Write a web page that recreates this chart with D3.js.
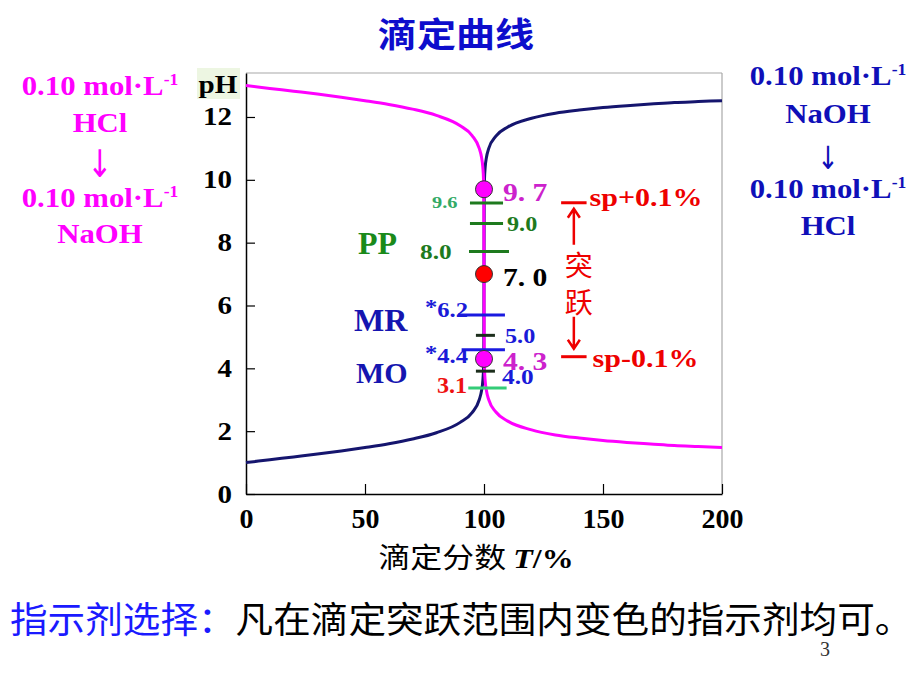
<!DOCTYPE html>
<html><head><meta charset="utf-8">
<script src="https://cdn.jsdelivr.net/npm/d3@7"></script>
<style>body{margin:0;background:#fff} svg{display:block}</style>
</head><body><div id="chart"></div>
<script>
// ---------- data ----------
const titrT = [0,10,20,30,40,50,60,70,80,90,95,98,99,99.5,99.8,99.9,100,100.1,100.2,100.5,101,102,105,110,120,130,140,150,160,170,180,190,200];
// HCl titrated with NaOH (navy, rising)
const acidCurvePH = [1.00,1.09,1.18,1.27,1.37,1.48,1.60,1.75,1.95,2.28,2.59,3.00,3.30,3.60,4.00,4.30,7.00,9.70,10.00,10.40,10.70,11.00,11.39,11.68,11.96,12.12,12.22,12.30,12.36,12.41,12.46,12.49,12.52];
// NaOH titrated with HCl (magenta, falling)
const baseCurvePH = [13.00,12.91,12.82,12.73,12.63,12.52,12.40,12.25,12.05,11.72,11.41,11.00,10.70,10.40,10.00,9.70,7.00,4.30,4.00,3.60,3.30,3.00,2.61,2.32,2.04,1.88,1.78,1.70,1.64,1.59,1.54,1.51,1.48];
const xTicks = [0,50,100,150,200];
const yTicks = [0,2,4,6,8,10,12];
const keyT = [100,100,100];
const keyPH = [9.7,7.0,4.3];
const keyLabels = ["9. 7","7. 0","4. 3"];
const rangePH = [9.26,8.61,7.72,5.70,5.05,4.59,3.91,3.37];
const rangeT0 = [94.1,94.1,93.7,89.1,96.6,90.6,96.6,93.4];
const rangeT1 = [108.0,108.0,110.5,108.8,104.6,108.8,104.6,109.5];
const rangeLabels = ["9.6","9.0","8.0","*6.2","5.0","*4.4","4.0","3.1"];
const indicatorNames = ["PP","MR","MO"];
const jumpPH = [9.27,4.37];
const jumpLabels = ["sp+0.1%","sp-0.1%"];
const jumpT0 = 132.4, jumpT1 = 143.1;

// ---------- setup ----------
const W = 920, H = 690;
const SERIF = "'Liberation Serif','Times New Roman',serif";
const CJK = "'Noto Sans CJK SC','Noto Sans',sans-serif";
const svg = d3.select("#chart").append("svg").attr("width", W).attr("height", H);
svg.append("rect").attr("width", W).attr("height", H).attr("fill", "#fff");

const x = d3.scaleLinear().domain([0,200]).range([246,722]);
const y = d3.scaleLinear().domain([0,13.4]).range([494,73]);

function label(g, px, py, str, o) {
  const t = g.append("text")
    .attr("transform", `translate(${px},${py}) scale(${o.sx||1},1)`)
    .attr("text-anchor", o.anchor || "start")
    .style("font-family", o.family || SERIF)
    .style("font-size", o.size + "px")
    .style("font-weight", o.weight || "bold")
    .style("font-style", o.style || "normal")
    .attr("fill", o.color || "#000");
  if (str !== null) t.text(str);
  return t;
}

// title
label(svg, 456, 47, "滴定曲线", {size:34, family:CJK, color:"#0d0dcc", anchor:"middle", sx:1.15});

// side notes
function sideNote(cx, lines, color) {
  lines.forEach(l => {
    if (l.arrow) {
      label(svg, cx, l.y, "↓", {size:l.size, weight:"normal", color, anchor:"middle", family:"'DejaVu Sans',sans-serif", sx:0.8});
    } else if (l.sup) {
      const t = label(svg, cx, l.y, null, {size:28, color, anchor:"middle", sx:1.1});
      t.append("tspan").text(l.text);
      t.append("tspan").text("-1").attr("dy", -10).style("font-size", "16px");
    } else {
      label(svg, cx, l.y, l.text, {size:28, color, anchor:"middle", sx:1.1});
    }
  });
}
sideNote(100, [{text:"0.10 mol·L", sup:true, y:95},{text:"HCl", y:132},{arrow:true, y:177, size:38},{text:"0.10 mol·L", sup:true, y:207},{text:"NaOH", y:243}], "#ff00ff");
sideNote(828, [{text:"0.10 mol·L", sup:true, y:85},{text:"NaOH", y:123},{arrow:true, y:169, size:32},{text:"0.10 mol·L", sup:true, y:198},{text:"HCl", y:235}], "#0f0fb8");

// frame
const plot = svg.append("g");
plot.append("line").attr("x1", x(0)).attr("x2", x(200)).attr("y1", y(13.4)).attr("y2", y(13.4)).attr("stroke", "#a8a8a8").attr("stroke-width", 1.2);
plot.append("line").attr("x1", x(200)).attr("x2", x(200)).attr("y1", y(13.4)).attr("y2", y(0)).attr("stroke", "#a8a8a8").attr("stroke-width", 1.2);

// axes
const sxY = 1.16;
const yAxis = svg.append("g").attr("transform", `translate(${x(0)},0)`)
  .call(d3.axisLeft(y).tickValues(yTicks).tickSize(-9).tickSizeOuter(0).tickPadding(14).tickFormat(d3.format("d")));
yAxis.select(".domain").attr("stroke", "#000").attr("stroke-width", 1.5);
yAxis.selectAll(".tick line").attr("stroke", "#000").attr("stroke-width", 1.2);
yAxis.selectAll(".tick text")
  .attr("x", -14 / sxY).attr("transform", `scale(${sxY},1)`)
  .style("font-family", SERIF).style("font-size", "25px").style("font-weight", "bold").attr("fill", "#000");

const xAxis = svg.append("g").attr("transform", `translate(0,${y(0)})`)
  .call(d3.axisBottom(x).tickValues(xTicks).tickSize(-10).tickSizeOuter(0).tickPadding(14).tickFormat(d3.format("d")));
xAxis.select(".domain").attr("stroke", "#000").attr("stroke-width", 1.5);
xAxis.selectAll(".tick line").attr("stroke", "#000").attr("stroke-width", 1.2);
xAxis.selectAll(".tick text")
  .style("font-family", SERIF).style("font-size", "28px").style("font-weight", "bold").attr("fill", "#000");

// pH label
svg.append("rect").attr("x", 197).attr("y", 68).attr("width", 43).attr("height", 31).attr("fill", "#edf6e2");
label(svg, 218, 93, "pH", {size:26, anchor:"middle", sx:1.12});

// x axis title
const xt = label(svg, 476, 568, null, {size:28, anchor:"middle", sx:1.14, weight:"normal"});
xt.append("tspan").text("滴定分数 ").style("font-family", CJK);
xt.append("tspan").text("T").style("font-style", "italic").style("font-weight", "bold");
xt.append("tspan").text("/%").style("font-weight", "bold");

// curves
const line = d3.line().x((d,i) => x(titrT[i])).y(d => y(d)).curve(d3.curveMonotoneX);
svg.append("path").datum(acidCurvePH).attr("d", line).attr("fill", "none")
  .attr("stroke", "#15156e").attr("stroke-width", 3).attr("stroke-linejoin", "round");
svg.append("path").datum(baseCurvePH).attr("d", line).attr("fill", "none")
  .attr("stroke", "#ff00ff").attr("stroke-width", 3).attr("stroke-linejoin", "round");

// indicator range segments
const segColors = ["#1e7a1e","#1e7a1e","#1e7a1e","#1a1ae0","#1c2e1c","#1a1ae0","#1c2e1c","#33cc77"];
svg.append("g").selectAll("line").data(rangePH).join("line")
  .attr("x1", (d,i) => x(rangeT0[i])).attr("x2", (d,i) => x(rangeT1[i]))
  .attr("y1", d => y(d)).attr("y2", d => y(d))
  .attr("stroke", (d,i) => segColors[i]).attr("stroke-width", 3);

// key points
const keyFill = ["#ff00ff","#ff0000","#ff00ff"];
svg.append("g").selectAll("circle").data(keyPH).join("circle")
  .attr("cx", (d,i) => x(keyT[i])).attr("cy", d => y(d)).attr("r", 8.5)
  .attr("fill", (d,i) => keyFill[i]).attr("stroke", "#333").attr("stroke-width", 1);

// range labels
const X100 = x(100);
const rl = [
  {i:0, dx:-52, dy:4.5, size:17, color:"#33aa66", sx:1.2},
  {i:1, dx:23, dy:7.5, size:22, color:"#1e7a1e", sx:1.1},
  {i:2, dx:-64, dy:7.5, size:22, color:"#1e7a1e", sx:1.15},
  {i:3, dx:-59, dy:2, size:21, color:"#1a1ad8", sx:1.17},
  {i:4, dx:21, dy:8, size:22, color:"#1a1ad8", sx:1.1},
  {i:5, dx:-59, dy:13, size:21, color:"#1a1ad8", sx:1.17},
  {i:6, dx:18, dy:12.5, size:22, color:"#1a1ad8", sx:1.15},
  {i:7, dx:-47, dy:5, size:23, color:"#ee1111", sx:1.05}
];
// key point labels
keyLabels.forEach((s,i) => {
  const col = ["#cc22cc","#000","#cc22cc"][i];
  label(svg, X100 + 19, y(keyPH[i]) + [12,12,11][i], s, {size:26, color:col, sx:1.14});
});
rl.forEach(o => {
  const s = rangeLabels[o.i];
  const t = label(svg, X100 + o.dx, y(rangePH[o.i]) + o.dy, null, {size:o.size, color:o.color, sx:o.sx});
  if (s[0] === "*") {
    t.append("tspan").text("*").attr("dy", -3);
    t.append("tspan").text(s.slice(1)).attr("dy", 3);
  } else t.text(s);
});

// indicator names
const nameStyle = [{px:358, ph:7.65, size:32, color:"#1a8a1a"},{px:354, ph:5.2, size:32, color:"#1515b0"},{px:356, ph:3.52, size:30, color:"#1515b0"}];
indicatorNames.forEach((n,i) => {
  const s = nameStyle[i];
  label(svg, s.px, y(s.ph), n, {size:s.size, color:s.color});
});

// jump annotation
const red = "#ee0000";
const jg = svg.append("g");
jumpPH.forEach((p,i) => {
  jg.append("line").attr("x1", x(jumpT0)).attr("x2", x(jumpT1)).attr("y1", y(p)).attr("y2", y(p))
    .attr("stroke", red).attr("stroke-width", 3);
  label(jg, x(jumpT1) + (i ? 6 : 3), y(p) + (i ? 10 : 3.5), jumpLabels[i], {size:25, color:red, sx:1.2});
});
const ax = (x(jumpT0) + x(jumpT1)) / 2;
const yTop = y(jumpPH[0]), yBot = y(jumpPH[1]);
jg.append("path").attr("d", `M${ax},${yTop+6} L${ax},${yTop+42} M${ax-6},${yTop+15} L${ax},${yTop+6} L${ax+6},${yTop+15}`)
  .attr("stroke", red).attr("stroke-width", 2.5).attr("fill", "none");
jg.append("path").attr("d", `M${ax},${yBot-40} L${ax},${yBot-8} M${ax-6},${yBot-17} L${ax},${yBot-8} L${ax+6},${yBot-17}`)
  .attr("stroke", red).attr("stroke-width", 2.5).attr("fill", "none");
label(jg, ax + 5, yTop + 73, "突", {size:28, family:CJK, color:red, weight:"normal", anchor:"middle"});
label(jg, ax + 5, yTop + 110, "跃", {size:28, family:CJK, color:red, weight:"normal", anchor:"middle"});

// bottom note
const bt = label(svg, 10, 633, null, {size:36, family:CJK, weight:"normal", sx:1.045});
bt.append("tspan").text("指示剂选择：").attr("fill", "#1a1aff");
bt.append("tspan").text("凡在滴定突跃范围内变色的指示剂均可。").attr("fill", "#000");
label(svg, 820, 656, "3", {size:20, weight:"normal", color:"#333"});
</script>
</body></html>
